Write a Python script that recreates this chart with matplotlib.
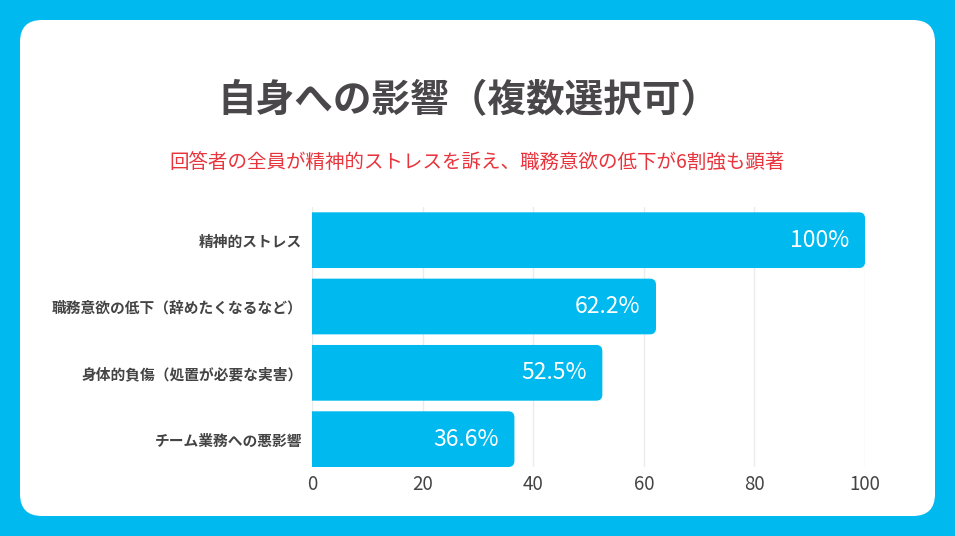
import matplotlib.pyplot as plt
from matplotlib.patches import FancyBboxPatch

plt.rcParams['font.family'] = ['Noto Sans CJK JP', 'DejaVu Sans']

categories = ['精神的ストレス', '職務意欲の低下（辞めたくなるなど）',
              '身体的負傷（処置が必要な実害）', 'チーム業務への悪影響']
values = [100, 62.2, 52.5, 36.6]
value_labels = ['100%', '62.2%', '52.5%', '36.6%']
xticks = [0, 20, 40, 60, 80, 100]

title = '自身への影響（複数選択可）'
subtitle = '回答者の全員が精神的ストレスを訴え、職務意欲の低下が6割強も顕著'

blue = '#00b9ef'

fig = plt.figure(figsize=(9.55, 5.36), dpi=100, facecolor=blue)

# background card in pixel coordinates
bg = fig.add_axes([0, 0, 1, 1])
bg.set_xlim(0, 955)
bg.set_ylim(536, 0)
bg.axis('off')
bg.add_patch(FancyBboxPatch((20, 20), 915, 496, boxstyle='round,pad=0,rounding_size=22',
                            facecolor='white', edgecolor='none'))
bg.text(468, 101, title, ha='center', va='center', fontsize=27.8, fontweight='bold', color='#4a474a')
bg.text(477, 163, subtitle, ha='center', va='center', fontsize=14, color='#e8343c')

ax = fig.add_axes([0.3267, 0.1287, 0.5791, 0.4851])
ax.set_facecolor('none')
y = list(range(len(categories)))
bars = ax.barh(y, values, height=0.84, color=blue)
ax.set_xlim(0, 100)
ax.set_ylim(3.42, -0.5)

# rounded right ends
for b in bars:
    b.set_visible(False)
    x0, y0 = b.get_x(), b.get_y()
    w, h = b.get_width(), b.get_height()
    ax.add_patch(FancyBboxPatch((x0 - 3, y0), w + 3, h,
                                boxstyle='round,pad=0,rounding_size=1.1',
                                mutation_aspect=0.083, facecolor=blue, edgecolor='none', zorder=2))

for yi, v, lab in zip(y, values, value_labels):
    ax.text(v - 2.8, yi, lab, ha='right', va='center', color='white', fontsize=16.5, zorder=3)

ax.set_yticks(y)
ax.set_yticklabels(categories, fontsize=10.6, fontweight='bold', color='#444444')
ax.set_xticks(xticks)
ax.set_xticklabels([str(t) for t in xticks], fontsize=13.5, color='#444444')
ax.tick_params(length=0)
ax.tick_params(axis='y', pad=7)
ax.tick_params(axis='x', pad=5)
ax.grid(axis='x', color='#ebebeb', linewidth=1, zorder=0)
ax.set_axisbelow(True)
for s in ax.spines.values():
    s.set_visible(False)

fig.savefig('out.png', dpi=100, facecolor=blue)
